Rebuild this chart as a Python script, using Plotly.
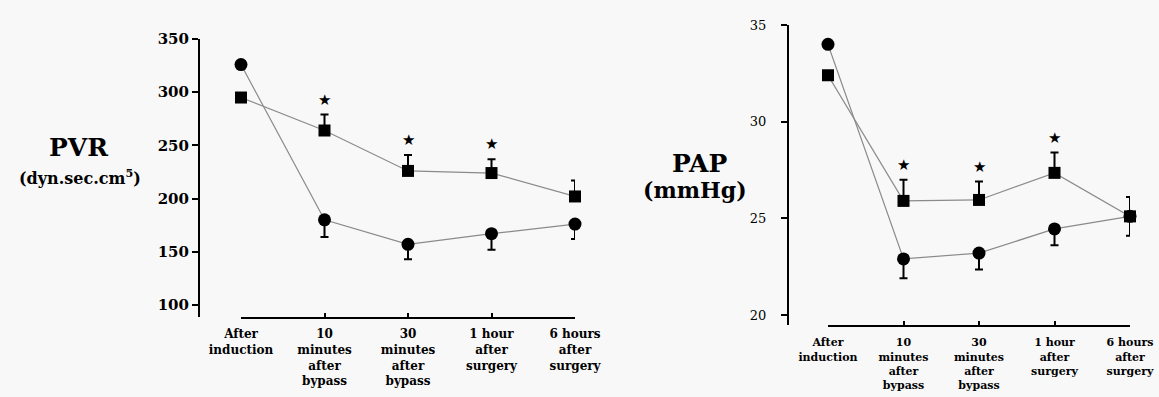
import plotly.graph_objects as go

W, H = 1159, 397

categories = ["After<br>induction", "10<br>minutes<br>after<br>bypass", "30<br>minutes<br>after<br>bypass",
              "1 hour<br>after<br>surgery", "6 hours<br>after<br>surgery"]

# PVR (dyn.sec.cm5)
pvr_square = [295, 264, 226, 224, 202]
pvr_square_err = [0, 15, 15, 13, 15]
pvr_circle = [326, 180, 157, 167, 176]
pvr_circle_err = [0, 16, 14, 15, 14]
pvr_star = [False, True, True, True, False]
pvr_ticks = [100, 150, 200, 250, 300, 350]

# PAP (mmHg)
pap_square = [32.4, 25.9, 25.95, 27.35, 25.1]
pap_square_err = [0, 1.1, 0.95, 1.05, 1.0]
pap_circle = [34.0, 22.9, 23.2, 24.45, 25.1]
pap_circle_err = [0, 1.0, 0.85, 0.85, 1.0]
pap_star = [False, True, True, True, False]
pap_ticks = [20, 25, 30, 35]

SERIF = "DejaVu Serif"
LINE = "#8a8a8a"
BG = "#f8f8f8"

fig = go.Figure()


def add_panel(xa, ya, sq, sq_err, ci, ci_err, stars):
    zeros = [0] * len(sq)
    fig.add_trace(go.Scatter(
        x=categories, y=sq, mode="lines+markers", xaxis=xa, yaxis=ya, cliponaxis=False,
        line=dict(color=LINE, width=1.2),
        marker=dict(symbol="square", size=12, color="black"),
        error_y=dict(type="data", symmetric=False, array=sq_err, arrayminus=zeros,
                     color="black", thickness=2, width=4),
        showlegend=False))
    fig.add_trace(go.Scatter(
        x=categories, y=ci, mode="lines+markers", xaxis=xa, yaxis=ya, cliponaxis=False,
        line=dict(color=LINE, width=1.2),
        marker=dict(symbol="circle", size=13, color="black"),
        error_y=dict(type="data", symmetric=False, array=zeros, arrayminus=ci_err,
                     color="black", thickness=2, width=4),
        showlegend=False))
    for c, v, e, s in zip(categories, sq, sq_err, stars):
        if s:
            fig.add_annotation(x=c, y=v + e, xref=xa, yref=ya, text="★", showarrow=False,
                               yshift=15, font=dict(family="DejaVu Sans", size=15, color="black"))


add_panel("x", "y", pvr_square, pvr_square_err, pvr_circle, pvr_circle_err, pvr_star)
add_panel("x2", "y2", pap_square, pap_square_err, pap_circle, pap_circle_err, pap_star)

xcommon = dict(type="category", showline=True, linecolor="black", linewidth=2, ticks="inside",
               ticklen=4, tickwidth=2, tickcolor="black", showgrid=False, zeroline=False,
               range=[0, 4], tickangle=0, automargin=False)
ycommon = dict(showline=True, linecolor="black", linewidth=2, ticks="outside", ticklen=6,
               tickwidth=2, tickcolor="black", showgrid=False, zeroline=False, anchor="free",
               automargin=False)

fig.update_layout(
    template="none",
    width=W, height=H, margin=dict(l=0, r=0, t=0, b=0, autoexpand=False),
    paper_bgcolor=BG, plot_bgcolor=BG,
    xaxis=dict(domain=[241 / W, 575 / W], anchor="y", ticklabelstandoff=5,
               tickfont=dict(family=SERIF, size=12, color="black", weight="bold"), **xcommon),
    yaxis=dict(domain=[1 - 317 / H, 1 - 39 / H], range=[88.7, 350], tickvals=pvr_ticks,
               position=199 / W,
               tickfont=dict(family=SERIF, size=15, color="black", weight="bold"), **ycommon),
    xaxis2=dict(domain=[828 / W, 1130 / W], anchor="y2", ticklabelstandoff=6,
                tickfont=dict(family=SERIF, size=11, color="black", weight="bold"), **xcommon),
    yaxis2=dict(domain=[1 - 325 / H, 1 - 25 / H], range=[19.48, 35], tickvals=pap_ticks,
                position=788 / W, ticklabelstandoff=12,
                tickfont=dict(family=SERIF, size=13, color="black"), **ycommon),
)

fig.add_annotation(x=78 / W, y=1 - 147 / H, xref="paper", yref="paper", text="PVR", showarrow=False,
                   xanchor="center", yanchor="middle",
                   font=dict(family=SERIF, size=25, color="black", weight="bold"))
fig.add_annotation(x=80 / W, y=1 - 177 / H, xref="paper", yref="paper", text="(dyn.sec.cm<sup>5</sup>)",
                   showarrow=False, xanchor="center", yanchor="middle",
                   font=dict(family=SERIF, size=16, color="black", weight="bold"))
fig.add_annotation(x=699 / W, y=1 - 163 / H, xref="paper", yref="paper", text="PAP", showarrow=False,
                   xanchor="center", yanchor="middle",
                   font=dict(family=SERIF, size=25, color="black", weight="bold"))
fig.add_annotation(x=695 / W, y=1 - 190 / H, xref="paper", yref="paper", text="(mmHg)",
                   showarrow=False, xanchor="center", yanchor="middle",
                   font=dict(family=SERIF, size=22, color="black", weight="bold"))

fig.write_html("out.html")
